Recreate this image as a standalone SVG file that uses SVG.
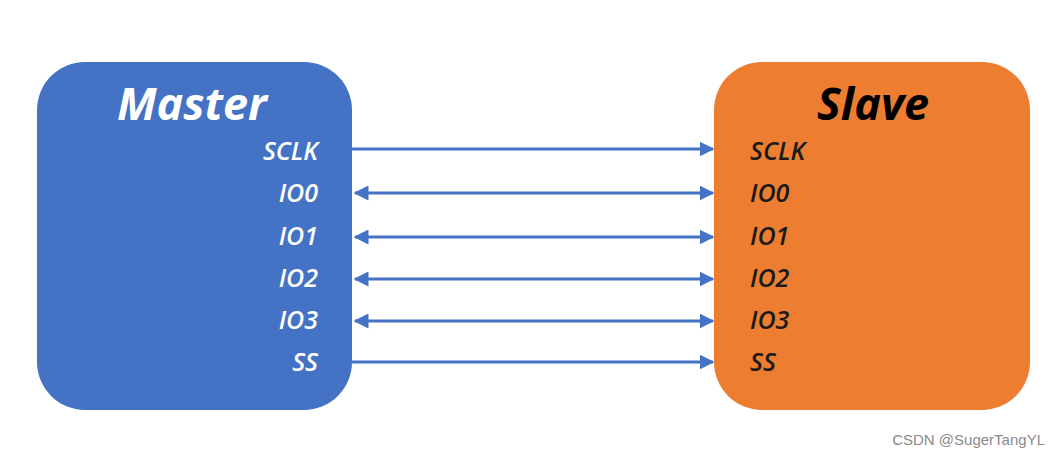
<svg xmlns="http://www.w3.org/2000/svg" width="1061" height="459" viewBox="0 0 1061 459">
<style>
.title{font-family:"Open Sans","Liberation Sans",sans-serif;font-size:45px;font-weight:700;font-style:italic}
.lbl{font-family:"Open Sans","Liberation Sans",sans-serif;font-size:25px;font-weight:600;font-style:italic}
.wm{font-family:"Liberation Sans",Arial,sans-serif;font-size:15px;fill:#8a8a8a}
.conn{stroke:#4472C4;stroke-width:3;fill:none}
</style>
<defs>
<marker id="ah" viewBox="0 0 10 10" refX="9" refY="5" markerWidth="5" markerHeight="5" orient="auto-start-reverse" markerUnits="strokeWidth">
<path d="M0,0 L10,5 L0,10 Z" fill="#4472C4"/>
</marker>
</defs>
<rect width="1061" height="459" fill="#ffffff"/>
<g id="master">
<rect x="37" y="62" width="315" height="348" rx="48" ry="48" fill="#4472C4"/>
<text class="title" x="192" y="120" text-anchor="middle" fill="#ffffff">Master</text>
<g fill="#ffffff" text-anchor="end">
<text class="lbl" x="318" y="160">SCLK</text>
<text class="lbl" x="318" y="202">IO0</text>
<text class="lbl" x="318" y="245">IO1</text>
<text class="lbl" x="318" y="287">IO2</text>
<text class="lbl" x="318" y="329">IO3</text>
<text class="lbl" x="318" y="371">SS</text>
</g>
</g>
<g id="slave">
<rect x="714" y="62" width="316" height="348" rx="48" ry="48" fill="#ED7D31"/>
<text class="title" x="873" y="120" text-anchor="middle" fill="#000000">Slave</text>
<g fill="#1a1a1a">
<text class="lbl" x="750" y="160">SCLK</text>
<text class="lbl" x="750" y="202">IO0</text>
<text class="lbl" x="750" y="245">IO1</text>
<text class="lbl" x="750" y="287">IO2</text>
<text class="lbl" x="750" y="329">IO3</text>
<text class="lbl" x="750" y="371">SS</text>
</g>
</g>
<g id="connectors">
<line class="conn" x1="352" y1="149" x2="713" y2="149" marker-end="url(#ah)"/>
<line class="conn" x1="355" y1="193" x2="713" y2="193" marker-start="url(#ah)" marker-end="url(#ah)"/>
<line class="conn" x1="355" y1="237" x2="713" y2="237" marker-start="url(#ah)" marker-end="url(#ah)"/>
<line class="conn" x1="355" y1="279" x2="713" y2="279" marker-start="url(#ah)" marker-end="url(#ah)"/>
<line class="conn" x1="355" y1="321" x2="713" y2="321" marker-start="url(#ah)" marker-end="url(#ah)"/>
<line class="conn" x1="352" y1="362" x2="713" y2="362" marker-end="url(#ah)"/>
</g>
<text class="wm" x="1045" y="445" text-anchor="end">CSDN @SugerTangYL</text>
</svg>
